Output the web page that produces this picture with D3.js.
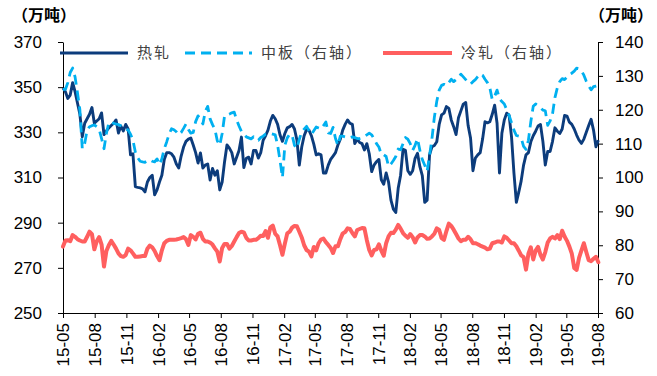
<!DOCTYPE html>
<html><head><meta charset="utf-8">
<script src="https://cdn.jsdelivr.net/npm/d3@7"></script>
<style>html,body{margin:0;padding:0;background:#fff}svg{display:block}</style>
</head><body><svg id="c" width="657" height="376"></svg>
<script>
// ---- data (weekly, starting 2015-05-01) ----
const startDate = "2015-05-01";
const endDate = "2019-08-01";
const tickLabels = ["15-05","15-08","15-11","16-02","16-05","16-08","16-11","17-02","17-05","17-08","17-11","18-02","18-05","18-08","18-11","19-02","19-05","19-08"];
const leftTicks = [250,270,290,310,330,350,370];
const rightTicks = [60,70,80,90,100,110,120,130,140];
const seriesNames = ["热轧","中板（右轴）","冷轧（右轴）"];
const unitLabel = "（万吨）";

// 热轧 (left axis)
const hotRolled = [
349.6,348,345,346.5,352,348,343,338,328,334,
336,338,341,334,335,336,338.6,329,330.6,332,
333,334,335.5,329.7,332.8,330.6,333.5,331.5,320,320.5,
306,305.6,305.4,305,303.6,308,310,311,302.3,304.5,
308,311,318,321,321,320.5,319,316,314.2,319.5,
323.5,326,327,327.5,324.4,321,316.4,320.9,314.2,315.5,
316,308.9,314,311,313,304.5,308,317,324.4,323,
321,316,319,322,327.9,314.4,318.5,319,316,322,
322,318.6,321,326.5,328.5,331,335,337.5,336,333.5,
328.8,326,329.5,332,332.5,333.5,331.5,326.6,315.5,323.5,
328.5,331.2,331,328.5,324.8,320,320.5,320,312,312,
315.5,318,319.5,321,324.4,327,331,333.5,335.5,334,
333.5,325,327,325.5,325,322.2,325,320.5,312.6,315.5,
317,318,309,307,312,308,300,296,294.5,305.2,
311,322.5,322,313,311.4,313,318.5,320.7,314.8,310.8,
299,300,320,323.6,324.2,325.8,333.5,337.7,338.5,341.4,
340.6,335.5,332.5,329,336.5,339.5,342.5,343.2,333,327.5,
313,318.6,320,321,327,334.7,334.2,334.7,338,342,
334,312,329.6,335.5,338.5,337.5,328,312,299,303.5,
308.5,315.5,320,321,325.8,328.5,330.5,332.8,333.5,326,
315.5,321.5,321.5,326,332,330.5,329.5,331.5,337.5,337.2,
334.5,333.5,331.5,328.8,326.5,325.1,327,330,333,335.8,
331,323.6,326.5];

// 中板 (right axis)
const plate = [
126,126,128,131,132.3,129.7,125,120,108.5,110,
114,115,115.3,115.5,115,114.2,111.5,108.5,113,116.2,
116.5,116,115.8,115.6,115.3,115,114.4,114,112.8,111,
107.5,105.8,104.8,104.6,104.5,104.9,105.2,104.8,104.6,105.5,
103.8,105.5,108.5,110.5,112.8,114.4,114.1,113.5,112.6,113.3,
114.5,115.8,114.2,113.1,113.3,116.5,118.2,117.2,115.8,119.5,
121,117.3,115.6,114.2,110.8,109.5,113,118.2,118.4,118.7,
119.1,119.3,117,115.2,113.6,112.8,112,111.7,111.4,112,
111.2,111,111.8,112.2,112.8,112.9,113,112.8,112.6,109.5,
105,100,109.5,111.7,112.8,112.5,109.5,108.6,111.3,113.5,
114.3,115.1,113.8,112.7,113.8,114.9,114.6,114.3,115.3,116.4,
113.2,113,114.8,111.5,109.5,112.2,112.2,112,111.7,111.8,
112,111.8,111.5,111.5,111.7,112.1,112.6,113.1,112.6,111.4,
110,109,106.8,106.7,106.2,103.3,104,105,106.2,108.4,
108.2,110,111.8,111.3,110,108,109.5,111.5,108,105.3,
103.6,101.8,106.5,111.5,117.8,122.5,125.8,127.2,127.5,127.1,
128,129,128.3,128.9,129.6,130.5,129.7,128.9,128.1,127.6,
128.3,128.9,129.8,130.6,130.2,129,128,126.5,123,124,
125.8,123.3,122.4,121.7,120,118.3,116.2,114,112.4,112.2,
111.6,109.2,108.3,111,116.5,121,121.7,121.2,120.6,119.9,
119.7,115.4,116.7,118.8,123.6,126.5,128.3,129.2,128.9,129.6,
130.4,130.8,131.4,132.3,132.1,131.5,130.2,128.4,127,125.9,
126.8,127,127.2];

// 冷轧 (right axis)
const coldRolled = [
79.6,81.4,81.5,81.2,83,82.5,81.8,81.4,81.1,81.1,
82.5,84,83.3,78.8,81.2,82.4,80.2,73.7,78.3,80,
81.3,80.2,79,77.6,76.8,76.6,77.1,79,78.5,77.6,
76.6,76.6,76.7,76.8,76.8,79,79.9,79.4,78.3,76.8,
75.6,78.5,80.6,81.3,81.6,81.6,81.6,81.7,81.9,82.1,
82.4,81.8,80.1,83,82.5,81.7,83.4,83.7,81.9,81.1,
81.1,80.8,80.2,79.1,78.1,75.2,79.2,80.4,80.4,79,
79.8,81.1,82.4,83.6,84,83.8,82.2,81.4,81.4,81.6,
81.6,82.1,82.8,82.7,84.2,82.2,85.3,85.8,83.4,82.6,
80,77.2,80.5,83.5,84,85.2,85.7,85.6,84,82.3,
80,78.6,78.1,76.7,79.5,78.5,80.6,81.7,82,80.9,
80.1,79.2,77.7,79.7,79.7,81.8,83.5,83.9,85,84.8,
83.6,82.6,84.5,84.8,85.1,85,81.5,78.6,77,78.6,
78.8,80.3,78.4,76.9,80.6,82.6,83.7,83.6,84.6,86,
84.9,83.6,82.8,82.2,83.3,82.4,80.8,82.3,83,83,
82.6,81.9,82,82.6,83.4,85,84.5,82.1,81.6,84.2,
86.4,85.7,84.6,83.3,82,81.2,81.6,81.6,82.5,81.8,
80.6,80.6,80.3,79.9,79.6,79.3,78.8,79,80.6,80.8,
81.1,81.1,80.8,82.6,82.2,81.4,80.6,80.6,79.7,78.4,
77,76.5,72.8,77.5,79.4,75.8,78.4,79.5,77.2,75.8,
78,80.8,82,82.5,82,83,81.8,84.3,82.6,81.3,
79.6,77.5,73.3,72.7,76.3,78.5,80.6,78,75.6,75.3,
76,76.6,75];

// ---- chart ----
const colors = {hot:"#0c3c7c", plate:"#00b0f0", cold:"#ff5f5f"};
const svg = d3.select("#c");
const parse = d3.timeParse("%Y-%m-%d");
const start = parse(startDate), end = parse(endDate);
const weeks = hotRolled.map((_, i) => d3.timeDay.offset(start, 7 * i));
const tickDates = tickLabels.map(s => new Date(2000 + +s.slice(0,2), +s.slice(3) - 1, 1));

const L = 63, R = 598, T = 42, B = 313;
const x = d3.scaleTime().domain([start, end]).range([L, R]);
const yL = d3.scaleLinear().domain([250, 370]).range([B, T]);
const yR = d3.scaleLinear().domain([60, 140]).range([B, T]);

const tickFont = "'Liberation Sans', Arial, sans-serif";
const cjkFont = "'Noto Sans CJK SC', sans-serif";

function styleAxis(g) {
  g.selectAll("path,line").attr("stroke", "#000").attr("stroke-width", 1);
  g.selectAll("text").attr("fill", "#000").style("font-family", tickFont).style("font-size", "17px");
}

svg.append("g").attr("transform", `translate(${L},0)`)
  .call(d3.axisLeft(yL).tickValues(leftTicks).tickSize(5).tickSizeOuter(0).tickPadding(16).tickFormat(d3.format("d")))
  .call(styleAxis);

svg.append("g").attr("transform", `translate(${R},0)`)
  .call(d3.axisRight(yR).tickValues(rightTicks).tickSize(5).tickSizeOuter(0).tickPadding(12).tickFormat(d3.format("d")))
  .call(styleAxis);

const xAxis = svg.append("g").attr("transform", `translate(0,${B})`)
  .call(d3.axisBottom(x).tickValues(tickDates).tickSize(5).tickSizeOuter(0).tickFormat((d, i) => tickLabels[i]))
  .call(styleAxis);
xAxis.selectAll("text")
  .attr("transform", "rotate(-90)")
  .attr("x", -10).attr("y", 0).attr("dy", "0.35em")
  .style("text-anchor", "end");

// lines
const mk = (scale, arr) => d3.line().x((d, i) => x(weeks[i])).y(d => scale(d))(arr);
svg.append("path").attr("d", mk(yL, hotRolled)).attr("fill", "none")
  .attr("stroke", colors.hot).attr("stroke-width", 2.9).attr("stroke-linejoin", "round");
svg.append("path").attr("d", mk(yR, plate)).attr("fill", "none")
  .attr("stroke", colors.plate).attr("stroke-width", 2.8).attr("stroke-dasharray", "10,6").attr("stroke-linejoin", "round");
svg.append("path").attr("d", mk(yR, coldRolled)).attr("fill", "none")
  .attr("stroke", colors.cold).attr("stroke-width", 4).attr("stroke-linejoin", "round").attr("stroke-linecap", "round");

// legend
const leg = svg.append("g");
const legY = 53;
const items = [
  {name: seriesNames[0], c: colors.hot, w: 3, dash: null, x1: 60, x2: 128, tx: 137},
  {name: seriesNames[1], c: colors.plate, w: 3, dash: "10,6", x1: 185, x2: 252, tx: 261},
  {name: seriesNames[2], c: colors.cold, w: 4, dash: null, x1: 383, x2: 452, tx: 461}
];
items.forEach(it => {
  leg.append("line").attr("x1", it.x1).attr("x2", it.x2).attr("y1", legY).attr("y2", legY)
    .attr("stroke", it.c).attr("stroke-width", it.w).attr("stroke-dasharray", it.dash);
  leg.append("text").attr("x", it.tx).attr("y", legY).attr("dy", "0.36em")
    .text(it.name).attr("fill", "#404040")
    .style("font-family", cjkFont).style("font-size", "15px").style("letter-spacing", "2px");
});

// unit labels
svg.append("text").attr("x", 12).attr("y", 15).attr("dy", "0.36em").text(unitLabel)
  .style("font-family", cjkFont).style("font-size", "16px").style("font-weight", "bold").attr("fill", "#000");
svg.append("text").attr("x", 589).attr("y", 15).attr("dy", "0.36em").text(unitLabel)
  .style("font-family", cjkFont).style("font-size", "16px").style("font-weight", "bold").attr("fill", "#000");
</script>
</body></html>
